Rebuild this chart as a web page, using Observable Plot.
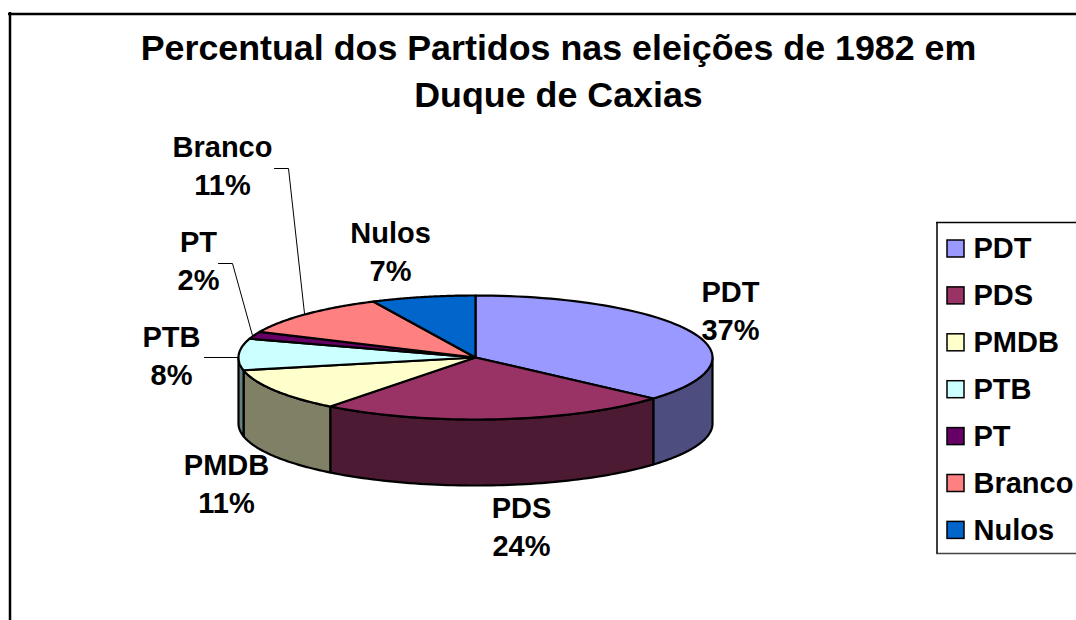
<!DOCTYPE html>
<html lang="pt">
<head>
<meta charset="utf-8">
<script src="https://cdn.jsdelivr.net/npm/d3@7"></script>
<script src="https://cdn.jsdelivr.net/npm/@observablehq/plot@0.6"></script>
<style>
html,body{margin:0;padding:0;background:#fff;overflow:hidden}
svg{display:block}
</style>
</head>
<body>
<div id="chart"></div>
<script>
// Data
const parties = ["PDT","PDS","PMDB","PTB","PT","Branco","Nulos"];
const shares = [36.5,24,11.2,8.2,1.9,11.1,7.1];
const titleLines = "Percentual dos Partidos nas eleições de 1982 em\nDuque de Caxias";

// Style
const topColors = ["#9999FF","#993366","#FFFFCC","#CCFFFF","#660066","#FF8080","#0066CC"];
const wallColors = ["#4D4D80","#4D1A33","#808066","#668080","#330033","#804040","#003366"];
const font = "'Liberation Sans', Arial, sans-serif";

// Layout
const W = 1076, H = 620;
const pie = {cx:475, cy:357, rx:237, ry:62, depth:66};
const labelAt = {PDT:[730,308],PDS:[521,524],PMDB:[226,481],PTB:[171,353],PT:[198,258],Branco:[222,163],Nulos:[390,249]};
const leaderPaths = [
  {id:"Branco",pts:[[274,168],[288,168],[304,313]]},
  {id:"PT",pts:[[218,263],[232,263],[252,335]]},
  {id:"PTB",pts:[[204,357],[238,357]]}
];

// Geometry from the shares
const arcs = d3.pie().sort(null).value(d=>d)(shares);
const px = a => pie.cx + pie.rx*Math.sin(a);
const py = a => pie.cy - pie.ry*Math.cos(a);
const steps = (a0,a1) => d3.range(0,65).map(i=>a0+(a1-a0)*i/64);

const tops = arcs.flatMap((s,i)=>{
  const ring = steps(s.startAngle,s.endAngle).map(a=>({x:px(a),y:py(a)}));
  const c = {x:pie.cx,y:pie.cy};
  return [c,...ring,c].map(p=>({...p,id:parties[i],color:topColors[i]}));
});

const walls = arcs.flatMap((s,i)=>{
  const a0 = Math.max(s.startAngle,Math.PI/2), a1 = Math.min(s.endAngle,Math.PI*1.5);
  if (a1<=a0) return [];
  const as = steps(a0,a1);
  const upper = as.map(a=>({x:px(a),y:py(a)}));
  const lower = [...as].reverse().map(a=>({x:px(a),y:py(a)+pie.depth}));
  return [...upper,...lower,upper[0]].map(p=>({...p,id:parties[i],color:wallColors[i]}));
});

const labels = parties.map((p,i)=>({
  x:labelAt[p][0],y:labelAt[p][1],
  text:`${p}\n${Math.round(shares[i])}%`
}));
const leaders = leaderPaths.flatMap(l=>l.pts.map(([x,y])=>({x,y,id:l.id})));

const legendRows = parties.map((p,i)=>({party:p,color:topColors[i],y:248.5+i*46.9}));

const chart = Plot.plot({
  width:W,height:H,margin:0,
  style:{background:"#fff",fontFamily:font},
  x:{axis:null,domain:[0,W],range:[0,W]},
  y:{axis:null,domain:[0,H],range:[0,H]},
  marks:[
    // chart frame
    Plot.ruleY([13.5],{x1:8,x2:W,stroke:"#000",strokeWidth:2.5}),
    Plot.ruleX([9.5],{y1:12,y2:H,stroke:"#000",strokeWidth:2.5}),
    // title
    Plot.text([titleLines],{x:558,y:68,text:d=>d,fontSize:35.8,fontWeight:"bold",fill:"#000",lineHeight:1.31,fontFamily:font}),
    // pie
    Plot.line(walls,{x:"x",y:"y",z:"id",fill:"color",stroke:"#000",strokeWidth:2.2,strokeLinejoin:"round"}),
    Plot.line(tops,{x:"x",y:"y",z:"id",fill:"color",stroke:"#000",strokeWidth:2.2,strokeLinejoin:"round"}),
    // leader lines
    Plot.line(leaders,{x:"x",y:"y",z:"id",stroke:"#000",strokeWidth:1}),
    // data labels
    Plot.text(labels,{x:"x",y:"y",text:"text",fontSize:29,fontWeight:"bold",fill:"#000",lineHeight:1.33,fontFamily:font}),
    // legend
    Plot.ruleY([222],{x1:936,x2:W,stroke:"#000",strokeWidth:1.5}),
    Plot.ruleY([553],{x1:936,x2:W,stroke:"#444",strokeWidth:1.5}),
    Plot.ruleX([936.5],{y1:222,y2:553,stroke:"#000",strokeWidth:1.5}),
    Plot.rect(legendRows,{x1:()=>947,x2:()=>964,y1:d=>d.y-8.5,y2:d=>d.y+8.5,fill:"color",stroke:"#000",strokeWidth:1.5}),
    Plot.text(legendRows,{x:()=>973,y:"y",text:"party",textAnchor:"start",fontSize:29,fontWeight:"bold",fill:"#000",fontFamily:font})
  ]
});
document.getElementById("chart").append(chart);
</script>
</body>
</html>
